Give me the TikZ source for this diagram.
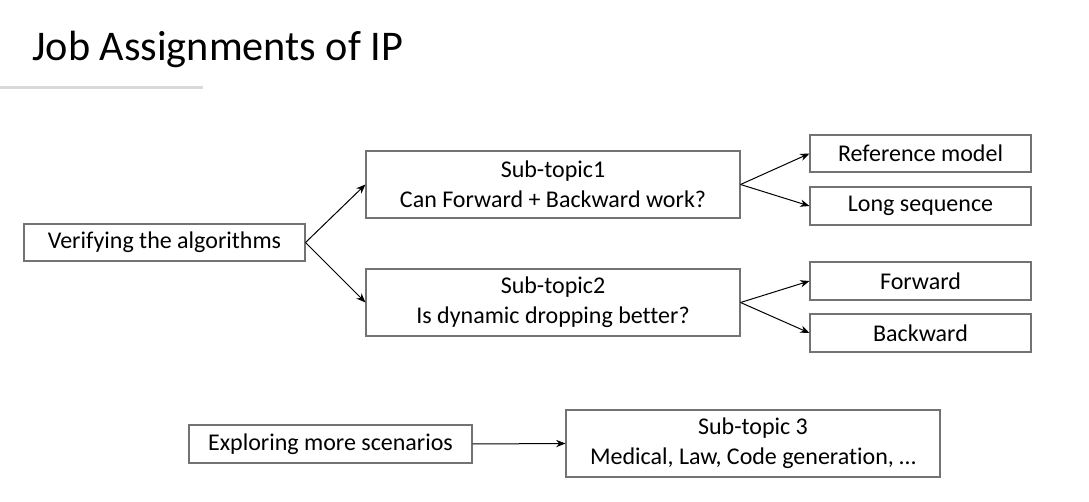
\documentclass[tikz,border=0pt]{standalone}
\usepackage{fontspec}
\setmainfont{Carlito}[Ligatures=NoCommon]
\usetikzlibrary{positioning,arrows.meta}
\tikzset{
	topicbox/.style={draw=black!55,line width=0.8pt,align=center,inner sep=0pt,
		font=\fontsize{18}{22.5}\selectfont},
	arr/.style={-{Stealth[length=7pt,width=5.5pt]},line width=0.75pt}
}
\begin{document}
\begin{tikzpicture}[x=0.75pt,y=-0.75pt]
		\useasboundingbox (0,0) rectangle (1089,502);
		\node[anchor=base west,inner sep=0pt,font=\fontsize{31.7}{38}\selectfont] (title) at (32,61) {Job Assignments of IP};
		\draw[black!15,line width=2.4pt] (0,87.5) -- (203,87.5);
		\node[topicbox,minimum width=210.75pt,minimum height=27.75pt] (verify) at (164.5,242.5) {Verifying the algorithms};
		\node[topicbox,minimum width=280.5pt,minimum height=50.25pt] (sub1) at (553,184.5) {Sub-topic1\\Can Forward + Backward work?};
		\node[topicbox,minimum width=280.5pt,minimum height=50.25pt] (sub2) at (553,302.5) {Sub-topic2\\Is dynamic dropping better?};
		\node[topicbox,minimum width=165.75pt,minimum height=27.75pt] (refmodel) at (920.5,153.5) {Reference model};
		\node[topicbox,minimum width=165.75pt,minimum height=28.5pt] (longseq) at (920.5,206) {Long sequence};
		\node[topicbox,minimum width=165.75pt,minimum height=28.5pt] (fwd) at (920.5,281) {Forward};
		\node[topicbox,minimum width=165.75pt,minimum height=28.5pt] (bwd) at (920.5,333) {Backward};
		\node[topicbox,minimum width=212.25pt,minimum height=28.5pt] (explore) at (330.5,444) {Exploring more scenarios};
		\node[topicbox,minimum width=280.5pt,minimum height=50.25pt] (sub3) at (753,443.5) {Sub-topic 3\\Medical, Law, Code generation, …};
		\draw[arr] (verify.east) -- (sub1.west);
		\draw[arr] (verify.east) -- (sub2.west);
		\draw[arr] (sub1.east) -- (refmodel.west);
		\draw[arr] (sub1.east) -- (longseq.west);
		\draw[arr] (sub2.east) -- (fwd.west);
		\draw[arr] (sub2.east) -- (bwd.west);
		\draw[arr] (explore.east) -- (sub3.west);
	\end{tikzpicture}
\end{document}
